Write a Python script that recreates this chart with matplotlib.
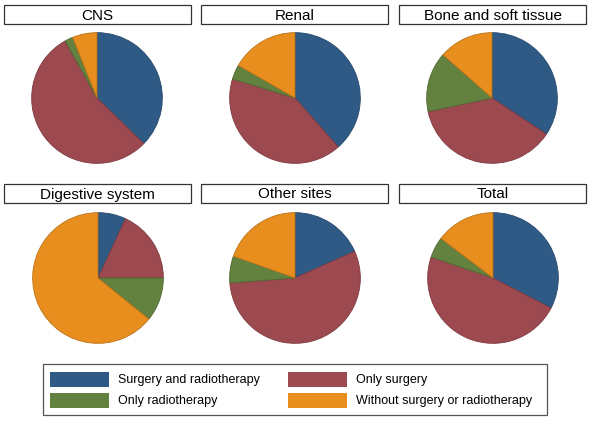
import matplotlib
matplotlib.use("Agg")
import matplotlib.pyplot as plt
import matplotlib.patches as ptch
import matplotlib.colors as mcolors

plt.rcParams['font.family'] = ['Liberation Sans', 'DejaVu Sans']

# share of patients (%) per treatment group
groups = ["CNS", "Renal", "Bone and soft tissue",
          "Digestive system", "Other sites", "Total"]
surgery_radio = [37.3, 38.5, 34.3, 6.9, 18.3, 32.6]
only_surgery = [54.6, 41.2, 37.3, 18.1, 55.5, 47.6]
only_radio = [2.0, 3.6, 14.8, 10.8, 6.6, 5.1]
neither = [6.1, 16.7, 13.5, 64.2, 19.6, 14.7]

labels = ["Surgery and radiotherapy", "Only surgery",
          "Only radiotherapy", "Without surgery or radiotherapy"]
colors = ["#2f5a86", "#9d4950", "#63823f", "#e88e1e"]

W, H = 590, 422
fig = plt.figure(figsize=(W / 100, H / 100), dpi=100)

def px(x, y, w, h):
    # pixel box (top-left origin) -> figure fraction
    return [x / W, 1 - (y + h) / H, w / W, h / H]

def darker(c, f=0.8):
    rgb = mcolors.to_rgb(c)
    return tuple(v * f for v in rgb)

centers = [(97, 98), (295, 98), (492, 98), (98, 278), (295, 278), (493, 278)]
boxes = [(4, 5), (201, 5), (399, 5), (4, 184), (201, 184), (399, 184)]
r = 66

for i, g in enumerate(groups):
    cx, cy = centers[i]
    ax = fig.add_axes(px(cx - r, cy - r, 2 * r, 2 * r))
    vals = [surgery_radio[i], only_surgery[i], only_radio[i], neither[i]]
    wedges, _ = ax.pie(vals, colors=colors, startangle=90, counterclock=False,
                       radius=1, wedgeprops=dict(linewidth=0.6))
    for w, c in zip(wedges, colors):
        w.set_edgecolor(darker(c))
    ax.set_xlim(-1.01, 1.01)
    ax.set_ylim(-1.01, 1.01)
    ax.set_aspect('equal')
    ax.axis('off')

    bx, by = boxes[i]
    rect = ptch.Rectangle((bx / W, 1 - (by + 19) / H), 187 / W, 19 / H,
                          transform=fig.transFigure, facecolor="white",
                          edgecolor="#333333", linewidth=0.9)
    fig.add_artist(rect)
    fig.text((bx + 93.5) / W, 1 - (by + 10.5) / H, g, ha='center',
             va='center', fontsize=11, color="black")

# legend box
leg = ptch.Rectangle((43 / W, 1 - 415 / H), 504 / W, 51 / H,
                     transform=fig.transFigure, facecolor="white",
                     edgecolor="#555555", linewidth=0.9)
fig.add_artist(leg)
pos = [(50, 372), (288, 372), (50, 393), (288, 393)]
for k, (lx, ly) in enumerate(pos):
    fig.add_artist(ptch.Rectangle((lx / W, 1 - (ly + 15) / H), 59 / W, 15 / H,
                                  transform=fig.transFigure,
                                  facecolor=colors[k], edgecolor="none"))
    fig.text((lx + 68) / W, 1 - (ly + 8) / H, labels[k], ha='left',
             va='center', fontsize=9, color="black")

fig.savefig("out.png", dpi=100, facecolor="white")
